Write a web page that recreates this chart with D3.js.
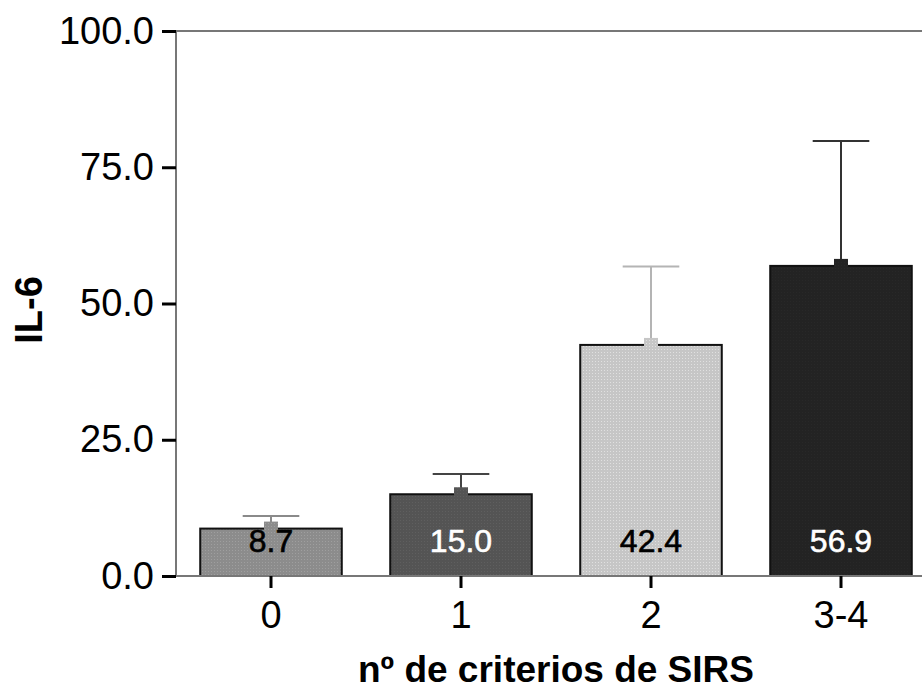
<!DOCTYPE html>
<html>
<head>
<meta charset="utf-8">
<script src="https://cdn.jsdelivr.net/npm/d3@7"></script>
<style>
  body { margin: 0; background: #fff; }
  svg { display: block; font-family: "Liberation Sans", Arial, sans-serif; }
</style>
</head>
<body>
<div id="chart"></div>
<script>
// data
var categories = ['0', '1', '2', '3-4'];
var means = [8.7, 15.0, 42.4, 56.9];
var upper = [11.0, 18.7, 56.8, 79.8];   // top of the error bars
var yTicks = [0, 25, 50, 75, 100];

var fills = ['#8c8c8c', '#545454', '#c6c6c6', '#232323'];
var errColors = ['#8a8a8a', '#444', '#b4b4b4', '#333'];
var labelColors = ['#000', '#fff', '#000', '#fff'];

var W = 922, H = 692;
var margin = { top: 31, left: 176, bottom: 116 };
var plotRight = 936;   // the frame runs past the right edge of the picture

var svg = d3.select('#chart').append('svg')
  .attr('width', W)
  .attr('height', H);

// dithered look of the original fills
var defs = svg.append('defs');
fills.forEach(function (c, i) {
  var p = defs.append('pattern')
    .attr('id', 'fill' + i)
    .attr('width', 3).attr('height', 3)
    .attr('patternUnits', 'userSpaceOnUse');
  p.append('rect').attr('width', 3).attr('height', 3).attr('fill', c);
  p.append('rect').attr('x', 1).attr('y', 1).attr('width', 1).attr('height', 1)
    .attr('fill', d3.color(c).brighter(0.35));
});

var x = d3.scaleBand()
  .domain(categories)
  .range([margin.left, plotRight])
  .paddingInner(0.255)
  .paddingOuter(0.1275);

var y = d3.scaleLinear()
  .domain([0, 100])
  .range([H - margin.bottom, margin.top]);

// top frame line
svg.append('line')
  .attr('x1', margin.left).attr('x2', plotRight)
  .attr('y1', y(100)).attr('y2', y(100))
  .attr('stroke', '#777').attr('stroke-width', 2);

// bars
var bars = svg.selectAll('.bar')
  .data(categories)
  .enter().append('g')
  .attr('class', 'bar');

bars.append('rect')
  .attr('x', function (d) { return x(d); })
  .attr('y', function (d, i) { return y(means[i]); })
  .attr('width', x.bandwidth())
  .attr('height', function (d, i) { return y(0) - y(means[i]); })
  .attr('fill', function (d, i) { return 'url(#fill' + i + ')'; })
  .attr('stroke', '#111')
  .attr('stroke-width', 2);

// error bars (upper half only)
var capW = x.bandwidth() * 0.4;
bars.append('line')
  .attr('x1', function (d) { return x(d) + x.bandwidth() / 2; })
  .attr('x2', function (d) { return x(d) + x.bandwidth() / 2; })
  .attr('y1', function (d, i) { return y(means[i]); })
  .attr('y2', function (d, i) { return y(upper[i]); })
  .attr('stroke', function (d, i) { return errColors[i]; })
  .attr('stroke-width', 2);

bars.append('line')
  .attr('x1', function (d) { return x(d) + x.bandwidth() / 2 - capW / 2; })
  .attr('x2', function (d) { return x(d) + x.bandwidth() / 2 + capW / 2; })
  .attr('y1', function (d, i) { return y(upper[i]); })
  .attr('y2', function (d, i) { return y(upper[i]); })
  .attr('stroke', function (d, i) { return errColors[i]; })
  .attr('stroke-width', 2);

// small square marker on the mean
bars.append('rect')
  .attr('x', function (d) { return x(d) + x.bandwidth() / 2 - 7; })
  .attr('y', function (d, i) { return y(means[i]) - 7; })
  .attr('width', 14).attr('height', 14)
  .attr('fill', function (d, i) { return 'url(#fill' + i + ')'; });

// value labels
bars.append('text')
  .attr('x', function (d) { return x(d) + x.bandwidth() / 2; })
  .attr('y', y(0) - 24)
  .attr('text-anchor', 'middle')
  .style('font-size', '32px')
  .attr('fill', function (d, i) { return labelColors[i]; })
  .attr('stroke', function (d, i) { return labelColors[i]; })
  .attr('stroke-width', 0.6)
  .text(function (d, i) { return means[i].toFixed(1); });

// axes
var yAxis = d3.axisLeft(y)
  .tickValues(yTicks)
  .tickFormat(d3.format('.1f'))
  .tickSize(14)
  .tickPadding(8);

var xAxis = d3.axisBottom(x)
  .tickSize(12)
  .tickPadding(13);

var gy = svg.append('g')
  .attr('transform', 'translate(' + margin.left + ',0)')
  .call(yAxis);

var gx = svg.append('g')
  .attr('transform', 'translate(0,' + y(0) + ')')
  .call(xAxis);

[gx, gy].forEach(function (g) {
  g.select('.domain').attr('stroke', '#777').attr('stroke-width', 2);
  g.selectAll('.tick line').attr('stroke', '#000').attr('stroke-width', 3);
  g.selectAll('.tick text')
    .attr('fill', '#000')
    .style('font-size', '38px')
    .style('font-family', '"Liberation Sans", Arial, sans-serif');
});
gy.select('.domain').attr('d', 'M0,' + y(100) + 'V' + y(0));
gx.select('.domain').attr('d', 'M' + margin.left + ',0H' + plotRight);

// axis titles
svg.append('text')
  .attr('x', (margin.left + plotRight) / 2)
  .attr('y', 682)
  .attr('text-anchor', 'middle')
  .style('font-size', '37px')
  .style('font-weight', 'bold')
  .text('nº de criterios de SIRS');

svg.append('text')
  .attr('transform', 'translate(42,' + 310 + ') rotate(-90)')
  .attr('text-anchor', 'middle')
  .style('font-size', '38px')
  .style('font-weight', 'bold')
  .text('IL-6');
</script>
</body>
</html>
